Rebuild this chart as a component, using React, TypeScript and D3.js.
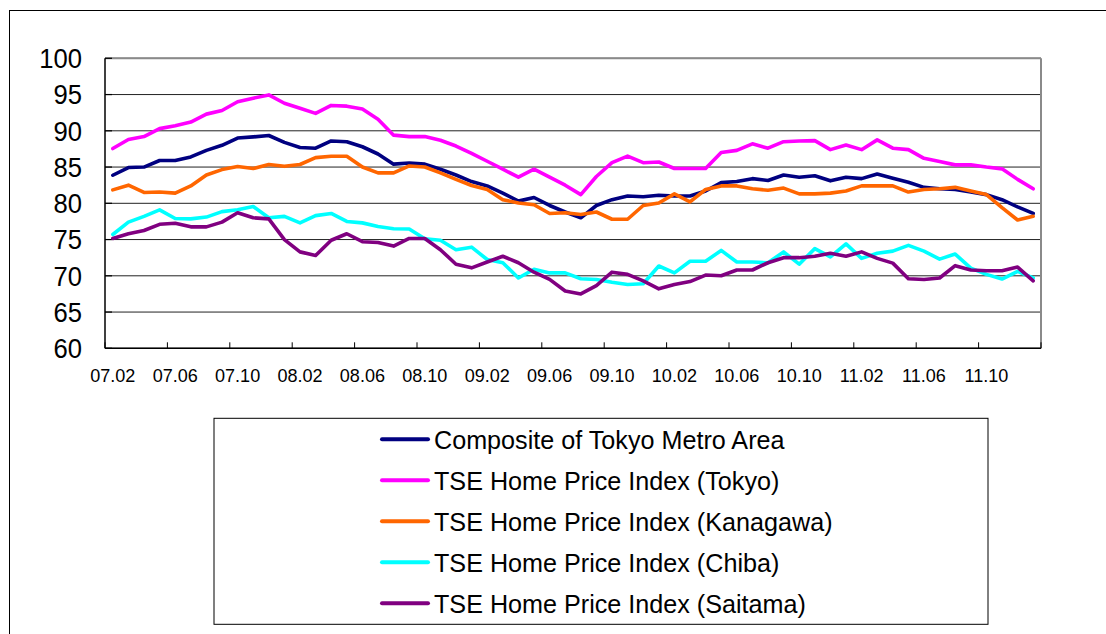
import React from "react";
import * as d3 from "d3";

const months = [
  "07.02","07.03","07.04","07.05","07.06","07.07","07.08","07.09","07.10","07.11","07.12",
  "08.01","08.02","08.03","08.04","08.05","08.06","08.07","08.08","08.09","08.10","08.11","08.12",
  "09.01","09.02","09.03","09.04","09.05","09.06","09.07","09.08","09.09","09.10","09.11","09.12",
  "10.01","10.02","10.03","10.04","10.05","10.06","10.07","10.08","10.09","10.10","10.11","10.12",
  "11.01","11.02","11.03","11.04","11.05","11.06","11.07","11.08","11.09","11.10","11.11","11.12",
  "12.01",
];
const tickLabels = ["07.02","07.06","07.10","08.02","08.06","08.10","09.02","09.06","09.10","10.02","10.06","10.10","11.02","11.06","11.10"];
const yTicks = [60, 65, 70, 75, 80, 85, 90, 95, 100];

const composite = [83.87,84.93,85.0,85.9,85.9,86.4,87.3,88.0,89.0,89.16,89.35,88.4,87.7,87.6,88.6,88.5,87.8,86.8,85.4,85.55,85.4,84.7,83.9,83.0,82.4,81.4,80.3,80.8,79.7,78.8,78.0,79.7,80.5,81.0,80.9,81.1,81.0,81.0,81.7,82.85,83.0,83.4,83.15,83.9,83.6,83.8,83.1,83.6,83.4,84.05,83.45,82.9,82.2,82.0,81.9,81.55,81.2,80.5,79.5,78.6];
const tokyo = [87.55,88.8,89.2,90.3,90.7,91.2,92.3,92.8,94.0,94.5,94.95,93.8,93.1,92.4,93.5,93.4,93.0,91.6,89.4,89.2,89.2,88.7,87.9,86.9,85.8,84.7,83.6,84.7,83.6,82.5,81.2,83.7,85.6,86.5,85.6,85.7,84.8,84.8,84.8,87.0,87.3,88.2,87.6,88.5,88.6,88.65,87.4,88.05,87.4,88.75,87.6,87.4,86.2,85.75,85.3,85.3,85.0,84.75,83.3,82.0];
const kanagawa = [81.85,82.5,81.5,81.55,81.4,82.4,83.9,84.65,85.07,84.8,85.35,85.1,85.35,86.3,86.5,86.5,85.0,84.2,84.2,85.15,85.0,84.2,83.3,82.45,81.9,80.5,80.05,79.8,78.6,78.7,78.45,78.8,77.8,77.8,79.7,80.05,81.3,80.2,81.9,82.4,82.4,82.0,81.8,82.1,81.3,81.3,81.4,81.7,82.4,82.4,82.4,81.55,81.9,82.0,82.2,81.7,81.2,79.4,77.7,78.2];
const chiba = [75.7,77.4,78.2,79.1,77.9,77.85,78.1,78.85,79.1,79.55,78.0,78.2,77.3,78.3,78.6,77.5,77.3,76.8,76.5,76.45,75.1,74.9,73.6,73.95,72.25,71.8,69.7,70.9,70.4,70.4,69.6,69.5,69.1,68.8,68.9,71.35,70.4,72.0,72.0,73.5,71.9,71.9,71.8,73.3,71.6,73.75,72.6,74.4,72.4,73.1,73.4,74.2,73.4,72.3,73.0,71.05,70.2,69.55,70.6,69.7];
const saitama = [75.15,75.8,76.25,77.1,77.25,76.75,76.75,77.4,78.7,78.0,77.85,75.0,73.3,72.8,74.9,75.8,74.7,74.6,74.1,75.15,75.15,73.6,71.6,71.1,71.9,72.7,71.8,70.5,69.5,67.9,67.5,68.65,70.5,70.2,69.3,68.2,68.8,69.2,70.1,70.0,70.8,70.8,71.8,72.5,72.5,72.7,73.1,72.7,73.3,72.4,71.75,69.6,69.5,69.7,71.4,70.8,70.7,70.7,71.2,69.3];

const seriesNames = [
  "Composite of Tokyo Metro Area",
  "TSE Home Price Index (Tokyo)",
  "TSE Home Price Index (Kanagawa)",
  "TSE Home Price Index (Chiba)",
  "TSE Home Price Index (Saitama)",
];
const seriesValues = [composite, tokyo, kanagawa, chiba, saitama];
const seriesColors = ["#000080", "#FF00FF", "#FF6600", "#00FFFF", "#800080"];

const FONT = "'Liberation Sans', Arial, Helvetica, sans-serif";

export default function App() {
  const W = 1106, H = 634;
  const left = 105, right = 1041, top = 58.3, bottom = 348.3;

  const x = d3.scaleBand<string>().domain(months).range([left, right]).padding(0);
  const y = d3.scaleLinear().domain([60, 100]).range([bottom, top]);
  const cx = (m: string) => (x(m) as number) + x.bandwidth() / 2;

  const line = d3
    .line<number>()
    .x((_, i) => cx(months[i]))
    .y((v) => y(v));

  const tickIdx = tickLabels.map((t) => months.indexOf(t));
  const boundaries = [...tickIdx.map((i) => x(months[i]) as number), right];

  const legX = 214, legY = 418.3, legW = 774, legH = 206;
  const rowY = (i: number) => 439.3 + i * 41;

  return (
    <div style={{ position: "fixed", left: 0, top: 0 }}>
      <svg width={W} height={H} style={{ display: "block", background: "#fff" }}>
        <rect x={0} y={0} width={W} height={H} fill="#fff" />
        {/* outer chart border */}
        <rect x={9.5} y={10.5} width={1300} height={900} fill="none" stroke="#000" strokeWidth={1} />

        {/* gridlines */}
        {yTicks.map((t) => (
          <line key={"g" + t} x1={left} x2={right} y1={y(t)} y2={y(t)} stroke="#222" strokeWidth={1} />
        ))}
        {/* plot border top/right */}
        <line x1={left} x2={right} y1={top} y2={top} stroke="#8a8a8a" strokeWidth={2} />
        <line x1={right} x2={right} y1={top} y2={bottom} stroke="#8a8a8a" strokeWidth={2} />

        {/* y-axis ticks inside */}
        {yTicks.map((t) => (
          <line key={"yt" + t} x1={left} x2={left + 7} y1={y(t)} y2={y(t)} stroke="#000" strokeWidth={1.2} />
        ))}
        {/* x-axis ticks inside */}
        {boundaries.map((b, i) => (
          <line key={"xt" + i} x1={b} x2={b} y1={bottom} y2={bottom - 6} stroke="#000" strokeWidth={1} />
        ))}

        {/* series */}
        {seriesValues.map((vals, i) => (
          <path
            key={"s" + i}
            d={line(vals) as string}
            fill="none"
            stroke={seriesColors[i]}
            strokeWidth={3.6}
            strokeLinejoin="round"
            strokeLinecap="round"
          />
        ))}

        {/* axes */}
        <line x1={left} x2={left} y1={top} y2={bottom} stroke="#000" strokeWidth={1.5} />
        <line x1={left} x2={right} y1={bottom} y2={bottom} stroke="#000" strokeWidth={1.5} />

        {/* y labels */}
        {yTicks.map((t) => (
          <text
            key={"yl" + t}
            transform={`translate(82,${y(t) + 9.8}) scale(0.95,1)`}
            textAnchor="end"
            fontFamily={FONT}
            fontSize={27}
            fill="#000"
          >
            {t}
          </text>
        ))}

        {/* x labels */}
        {tickLabels.map((t) => (
          <text
            key={"xl" + t}
            transform={`translate(${cx(t)},381.5) scale(0.95,1)`}
            textAnchor="middle"
            fontFamily={FONT}
            fontSize={19}
            fill="#000"
          >
            {t}
          </text>
        ))}

        {/* legend */}
        <rect x={legX} y={legY} width={legW} height={legH} fill="#fff" stroke="#000" strokeWidth={1} />
        {seriesNames.map((n, i) => (
          <g key={"lg" + i}>
            <line x1={382} x2={428} y1={rowY(i)} y2={rowY(i)} stroke={seriesColors[i]} strokeWidth={4} strokeLinecap="round" />
            <text
              transform={`translate(434,${rowY(i) + 10}) scale(0.95,1)`}
              fontFamily={FONT}
              fontSize={26.5}
              fill="#000"
            >
              {n}
            </text>
          </g>
        ))}
      </svg>
    </div>
  );
}
